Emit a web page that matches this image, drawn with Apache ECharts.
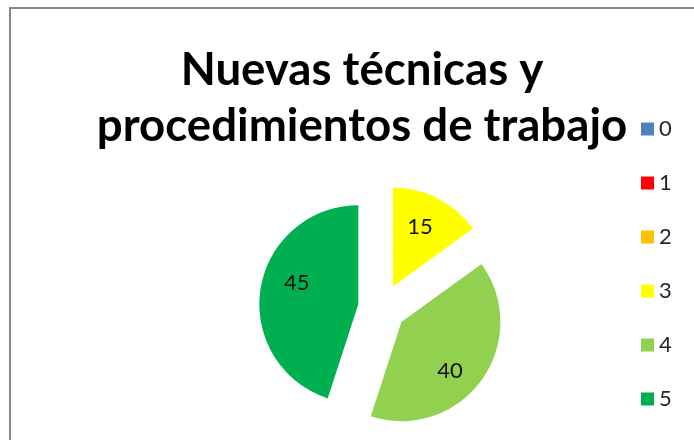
<!DOCTYPE html>
<html>
<head>
<meta charset="utf-8">
<script src="https://cdn.jsdelivr.net/npm/echarts@6/dist/echarts.min.js"></script>
<style>
html,body{margin:0;padding:0;background:#fff;}
#chart{width:694px;height:440px;}
</style>
</head>
<body>
<div id="chart"></div>
<script>
var titleText = 'Nuevas técnicas y\nprocedimientos de trabajo';
var categories = ['0', '1', '2', '3', '4', '5'];
var values = [0, 0, 0, 15, 40, 45];
var colors = ['#4F81BD', '#FF0000', '#FFC000', '#FFFF00', '#92D050', '#00B050'];

var FONT = 'Lato';
// fit the second title line to the reference width
var cv = document.createElement('canvas').getContext('2d');
var baseSize = 40;
cv.font = 'bold ' + baseSize + 'px ' + FONT;
var w = cv.measureText('procedimientos de trabajo').width;
var titleSize = Math.round(baseSize * 530 / w * 10) / 10;

var chart = echarts.init(document.getElementById('chart'));

// label nudges (styling only) mimicking the original spreadsheet label placement
var labelNudge = [[0, 0], [0, 0], [0, 0], [-3, -1], [-5, 10], [4, -11]];

var pieData = categories.map(function (c, i) {
  return { name: c, value: values[i], selected: values[i] > 0, itemStyle: { color: colors[i] } };
});
var labelData = categories.map(function (c, i) {
  return { name: c, value: values[i], selected: values[i] > 0, label: { show: values[i] > 0 } };
});

var center = [382, 308];
var R = 99;

chart.setOption({
  backgroundColor: '#ffffff',
  animation: false,
  graphic: [{
    type: 'rect',
    shape: { x: 10, y: 8, width: 760, height: 500 },
    style: { fill: 'none', stroke: '#888888', lineWidth: 2 },
    silent: true
  }],
  title: {
    text: titleText,
    left: 357,
    top: 37,
    textAlign: 'center',
    textStyle: { fontFamily: FONT, fontWeight: 'bold', fontSize: titleSize, lineHeight: 56, color: '#000' }
  },
  legend: {
    orient: 'vertical',
    left: 636,
    top: 113,
    itemWidth: 13,
    itemHeight: 13,
    itemGap: 32,
    icon: 'rect',
    selectedMode: false,
    data: categories,
    textStyle: { fontFamily: FONT, fontSize: 22, lineHeight: 22, color: '#262626' }
  },
  series: [{
    type: 'pie',
    center: center,
    radius: [0, R],
    startAngle: 90,
    clockwise: true,
    selectedMode: 'multiple',
    selectedOffset: 24,
    avoidLabelOverlap: false,
    label: { show: false },
    labelLine: { show: false },
    emphasis: { disabled: true },
    data: pieData
  }, {
    type: 'pie',
    center: center,
    radius: [R * 0.28, R],
    startAngle: 90,
    clockwise: true,
    selectedMode: 'multiple',
    selectedOffset: 24,
    avoidLabelOverlap: false,
    silent: true,
    itemStyle: { color: 'rgba(0,0,0,0)' },
    label: { show: true, position: 'inside', fontFamily: FONT, fontSize: 22, color: '#111', formatter: '{c}' },
    labelLayout: function (p) {
      var n = labelNudge[p.dataIndex] || [0, 0];
      return { dx: n[0], dy: n[1] };
    },
    labelLine: { show: false },
    emphasis: { disabled: true },
    data: labelData
  }]
});
</script>
</body>
</html>
